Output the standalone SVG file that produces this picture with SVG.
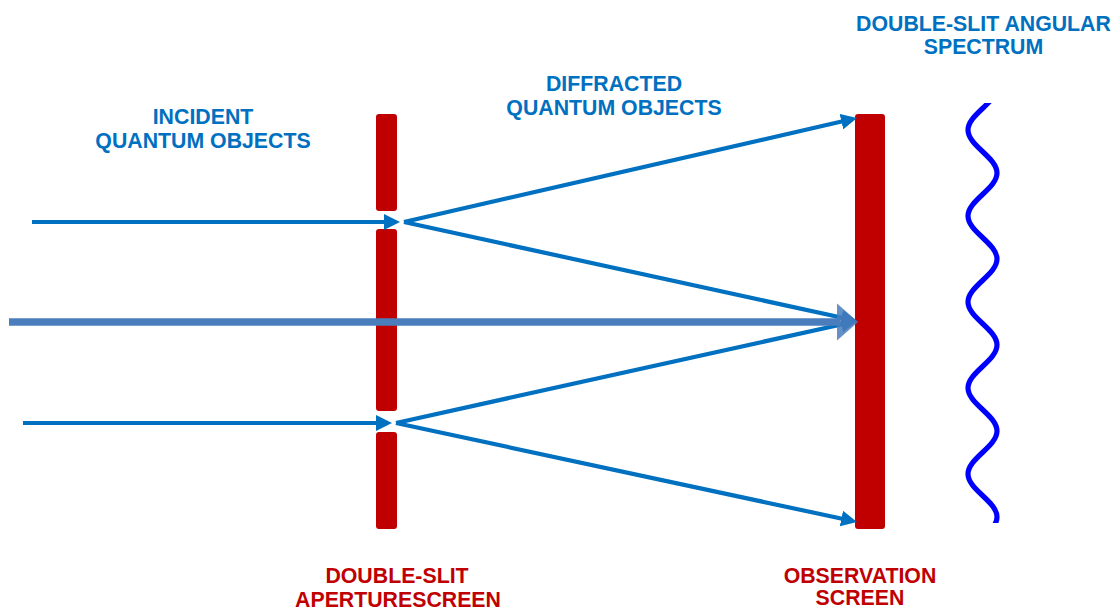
<svg xmlns="http://www.w3.org/2000/svg" width="1115" height="610" viewBox="0 0 1115 610">
  <style>
    .lbl { font-family: "Liberation Sans", Arial, sans-serif; font-weight: bold; font-size: 21.3px; text-anchor: middle; }
    .blue { fill: #0070c0; }
    .red { fill: #c00000; }
    .bar { fill: #c00000; }
    .ray { stroke: #0070c0; stroke-width: 4.2; fill: none; marker-end: url(#ah); }
  </style>
  <defs>
    <marker id="ah" markerUnits="userSpaceOnUse" markerWidth="16" markerHeight="16" refX="8" refY="8" orient="auto">
      <path d="M0,0 L16,8 L0,16 Z" fill="#0070c0"/>
    </marker>
    <clipPath id="waveClip">
      <rect x="940" y="103" width="80" height="420"/>
    </clipPath>
  </defs>
  <rect width="1115" height="610" fill="#ffffff"/>

  <g id="aperture-screen">
    <rect class="bar" x="376" y="114" width="21" height="97" rx="3"/>
    <rect class="bar" x="376" y="229" width="21" height="182" rx="3"/>
    <rect class="bar" x="376" y="432" width="21" height="97" rx="3"/>
  </g>
  <g id="observation-screen">
    <rect class="bar" x="855" y="114" width="30" height="415" rx="3"/>
  </g>
  <g id="angular-spectrum">
    <path clip-path="url(#waveClip)" fill="none" stroke="#0000ff" stroke-width="5.2" d="M997,87 C997,102.6 968,114.4 968,130 S997,157.4 997,173 S968,200.4 968,216 S997,243.4 997,259 S968,286.4 968,302 S997,329.4 997,345 S968,372.4 968,388 S997,415.4 997,431 S968,458.4 968,474 S997,501.4 997,517 S968,544.4 968,560"/>
  </g>

  <g id="connectors">
    <line class="ray" x1="32" y1="222" x2="392" y2="222"/>
    <line class="ray" x1="23" y1="423" x2="384" y2="423"/>
    <line class="ray" x1="404" y1="222" x2="849.2" y2="119.8"/>
    <line class="ray" x1="404" y1="222" x2="849.2" y2="319.3"/>
    <line class="ray" x1="396" y1="423" x2="849.2" y2="322.7"/>
    <line class="ray" x1="396" y1="423" x2="849.2" y2="520.3"/>
    <line x1="9" y1="322" x2="840" y2="322" stroke="#4a7dbb" stroke-width="7.5"/>
    <polygon points="837,303.5 858,322 837,340.5" fill="#4a7dbb" fill-opacity="0.85"/>
  </g>

  <g id="labels">
    <text class="lbl blue" x="203" y="124">INCIDENT</text>
    <text class="lbl blue" x="203" y="148">QUANTUM OBJECTS</text>
    <text class="lbl blue" x="614" y="91">DIFFRACTED</text>
    <text class="lbl blue" x="614" y="115">QUANTUM OBJECTS</text>
    <text class="lbl blue" x="983.5" y="31">DOUBLE-SLIT ANGULAR</text>
    <text class="lbl blue" x="983.5" y="54">SPECTRUM</text>
    <text class="lbl red" x="397" y="583">DOUBLE-SLIT</text>
    <text class="lbl red" x="398" y="607">APERTURESCREEN</text>
    <text class="lbl red" x="860" y="583">OBSERVATION</text>
    <text class="lbl red" x="860" y="605">SCREEN</text>
  </g>
</svg>
